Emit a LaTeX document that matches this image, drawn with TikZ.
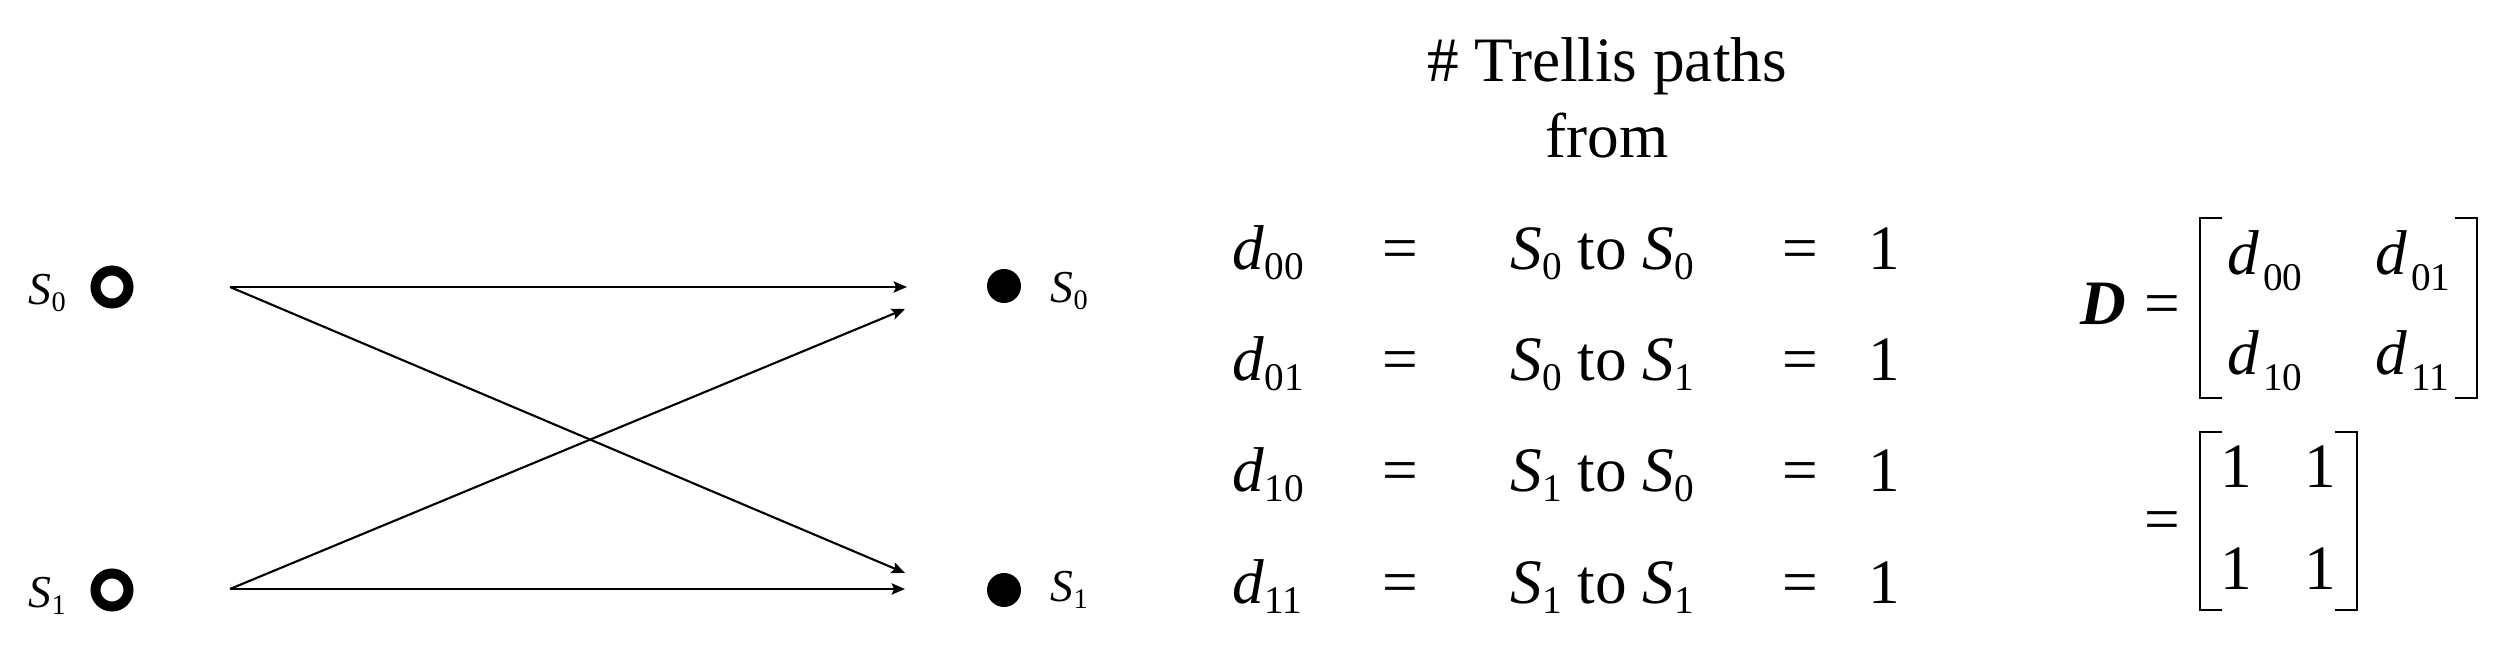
\documentclass[tikz,border=0pt]{standalone}
\usepackage{fontspec}
\setmainfont{Liberation Serif}
\usetikzlibrary{arrows.meta,positioning}

\newcommand{\lsub}[1]{\raisebox{-0.15em}{\scalebox{0.62}{#1}}}
\newcommand{\msub}[1]{\hspace{0.06em}\raisebox{-0.24em}{\scalebox{0.62}{#1}}}
\newcommand{\st}[1]{\textit{S}\lsub{#1}}
\newcommand{\dv}[1]{\textit{d}\lsub{#1}}
\newcommand{\dm}[1]{\textit{d}\msub{#1}}

\begin{document}
\begin{tikzpicture}[
  openstate/.style={circle,draw,line width=0.1cm,minimum size=0.33cm,inner sep=0pt},
  fullstate/.style={circle,fill=black,minimum size=0.34cm,inner sep=0pt},
  trans/.style={-{Stealth[length=3.8pt,width=3.2pt,inset=0.7pt]},line width=0.6pt},
  lbl/.style={font=\fontsize{13}{15}\selectfont,inner sep=0pt,anchor=base west},
  big/.style={font=\fontsize{18}{21.6}\selectfont,inner sep=0pt,anchor=base},
  bigw/.style={big,anchor=base west},
  brk/.style={line width=0.7pt}
]
\useasboundingbox (0,0) rectangle (24.97,6.56);

% Trellis section
\node[openstate] (srcA) at (1.12,3.69) {};
\node[openstate] (srcB) at (1.12,0.66) {};
\node[fullstate] (dstA) at (10.04,3.70) {};
\node[fullstate] (dstB) at (10.04,0.66) {};

\node[lbl] (srcAlab) at (0.28,3.51) {\st{0}};
\node[lbl] (srcBlab) at (0.28,0.48) {\st{1}};
\node[lbl] (dstAlab) at (10.50,3.53) {\st{0}};
\node[lbl] (dstBlab) at (10.50,0.54) {\st{1}};

\coordinate (outA) at (2.30,3.69);
\coordinate (outB) at (2.30,0.67);
\coordinate (inA) at (9.07,3.69);
\coordinate (inAx) at (9.05,3.47);
\coordinate (inBx) at (9.05,0.83);
\coordinate (inB) at (9.05,0.67);

\draw[trans] (outA) -- (inA);
\draw[trans] (outA) -- (inBx);
\draw[trans] (outB) -- (inAx);
\draw[trans] (outB) -- (inB);

% Path counts
\node[big] (title) at (16.07,5.74) {\# Trellis paths};
\node[big] (titlefrom) at (16.07,4.98) {from};

\node[bigw] (d00) at (12.32,3.86) {\dv{00}};
\node[big] (eq00) at (14.00,3.86) {=};
\node[bigw] (path00) at (15.10,3.86) {\st{0} to \st{0}};
\node[big] (eqv00) at (18.00,3.86) {=};
\node[big] (val00) at (18.84,3.86) {1};

\node[bigw] (d01) at (12.32,2.75) {\dv{01}};
\node[big] (eq01) at (14.00,2.75) {=};
\node[bigw] (path01) at (15.10,2.75) {\st{0} to \st{1}};
\node[big] (eqv01) at (18.00,2.75) {=};
\node[big] (val01) at (18.84,2.75) {1};

\node[bigw] (d10) at (12.32,1.64) {\dv{10}};
\node[big] (eq10) at (14.00,1.64) {=};
\node[bigw] (path10) at (15.10,1.64) {\st{1} to \st{0}};
\node[big] (eqv10) at (18.00,1.64) {=};
\node[big] (val10) at (18.84,1.64) {1};

\node[bigw] (d11) at (12.32,0.52) {\dv{11}};
\node[big] (eq11) at (14.00,0.52) {=};
\node[bigw] (path11) at (15.10,0.52) {\st{1} to \st{1}};
\node[big] (eqv11) at (18.00,0.52) {=};
\node[big] (val11) at (18.84,0.52) {1};

% Matrix D
\node[bigw] (matD) at (20.80,3.31) {\textbf{\textit{D}}};
\node[big] (eqD) at (21.62,3.31) {=};
\draw[brk] (22.22,4.38) -- (22.00,4.38) -- (22.00,2.58) -- (22.22,2.58);
\draw[brk] (24.55,4.38) -- (24.77,4.38) -- (24.77,2.58) -- (24.55,2.58);
\node[bigw] (m00) at (22.27,3.81) {\dm{00}};
\node[bigw] (m01) at (23.75,3.81) {\dm{01}};
\node[bigw] (m10) at (22.27,2.81) {\dm{10}};
\node[bigw] (m11) at (23.75,2.81) {\dm{11}};

\node[big] (eqN) at (21.62,1.15) {=};
\draw[brk] (22.22,2.24) -- (22.00,2.24) -- (22.00,0.46) -- (22.22,0.46);
\draw[brk] (23.35,2.24) -- (23.57,2.24) -- (23.57,0.46) -- (23.35,0.46);
\node[big] (n00) at (22.36,1.68) {1};
\node[big] (n01) at (23.20,1.68) {1};
\node[big] (n10) at (22.36,0.66) {1};
\node[big] (n11) at (23.20,0.66) {1};

\end{tikzpicture}
\end{document}
